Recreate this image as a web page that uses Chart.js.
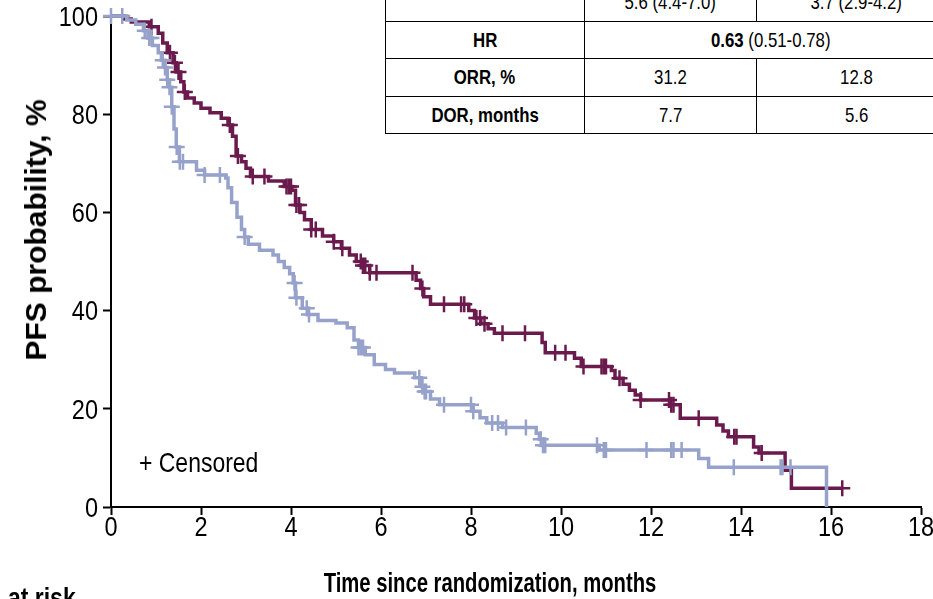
<!DOCTYPE html>
<html>
<head>
<meta charset="utf-8">
<script src="https://cdn.jsdelivr.net/npm/chart.js@4.4.1/dist/chart.umd.min.js"></script>
<style>
  body { margin: 0; background: #fff; }
  #wrap { position: relative; width: 933px; height: 599px; overflow: hidden; font-family: 'Liberation Sans', Arial, sans-serif; color: #000; }
  #myChart { position: absolute; left: 0; top: 0; }
  #stats { position: absolute; left: 385px; top: -17px; border-collapse: collapse; table-layout: fixed; width: 571px; background: #fff; font-size: 21px; }
  #stats td { border: 1.5px solid #000; height: 36.5px; padding: 0; text-align: center; overflow: hidden; }
  #stats td.lab { font-weight: bold; }
  .nar { display: inline-block; transform: scaleX(0.8); white-space: nowrap; }
  .note { position: absolute; white-space: nowrap; transform-origin: 0 0; }
</style>
</head>
<body>
<div id="wrap">
  <canvas id="myChart" width="933" height="599"></canvas>
  <table id="stats"><colgroup><col style="width:199px"><col style="width:172px"><col style="width:200px"></colgroup></table>
  <div class="note" style="left:139px; top:448px; font-size:28px; line-height:30px; transform:scaleX(0.82);">+ Censored</div>
  <div class="note" style="left:8px; top:584px; font-size:28px; line-height:28px; font-weight:bold; transform:scaleX(0.82);">at risk</div>
  <div class="note" style="left:490px; top:583px; font-size:27px; line-height:30px; font-weight:bold; transform:translate(-50%,-50%) scaleX(0.75); transform-origin:50% 50%;">Time since randomization, months</div>
  <div class="note" style="left:36px; top:230px; font-size:30px; line-height:32px; font-weight:bold; transform:translate(-50%,-50%) rotate(-90deg); transform-origin:50% 50%;">PFS probability, %</div>
</div>
<script>
// x ticks / y ticks
var xTicks = [0, 2, 4, 6, 8, 10, 12, 14, 16, 18];
var yTicks = [0, 20, 40, 60, 80, 100];

// purple arm: step times (months) and PFS % after each step
var armATimes = [0, 0.3, 0.45, 0.85, 1.05, 1.15, 1.25, 1.38, 1.45, 1.55, 1.62, 1.7, 1.85, 2.0, 2.2, 2.45, 2.6, 2.7, 2.78, 2.9, 3.0, 3.1, 3.5, 3.85, 4.02, 4.1, 4.2, 4.3, 4.45, 4.7, 4.95, 5.12, 5.3, 5.45, 5.58, 5.75, 6.78, 6.88, 6.95, 7.1, 7.95, 8.08, 8.22, 8.38, 8.52, 9.58, 9.65, 10.3, 10.45, 11.12, 11.2, 11.38, 11.52, 11.65, 11.77, 12.42, 12.65, 13.46, 13.6, 13.72, 14.28, 14.4, 14.98, 15.12, 16.25];
var armASurv  = [100, 99.4, 98.8, 97.8, 96.5, 94.5, 92.5, 90.5, 88.6, 86.6, 84.5, 83.3, 82.3, 81.2, 80.3, 79.2, 77.8, 75.5, 71.5, 70.3, 69, 67.3, 66.4, 65.3, 64.5, 61.5, 60, 58.5, 56.5, 55.2, 54, 52.7, 51.3, 50, 49.2, 47.7, 46.2, 44.5, 42.8, 41.3, 40, 38.5, 37.3, 36.3, 35.4, 33.5, 31.4, 30.3, 28.6, 27.8, 26.2, 25, 23.8, 22.8, 21.8, 20.8, 18.1, 16.7, 15.5, 14.3, 12.2, 11, 7.5, 3.8, 3.8];
var armACensor = [0.9, 1.31, 1.42, 1.5, 1.64, 2.64, 2.82, 3.15, 3.41, 3.9, 3.95, 4.0, 4.12, 4.18, 4.45, 4.55, 4.95, 5.14, 5.55, 5.6, 5.65, 5.75, 5.9, 6.7, 6.92, 7.4, 7.78, 7.85, 8.12, 8.2, 8.3, 8.7, 9.2, 9.87, 10.1, 10.5, 10.9, 10.95, 11.0, 11.3, 11.77, 12.4, 12.45, 12.5, 13.06, 13.85, 13.9, 14.46, 16.25];

// blue arm
var armBTimes = [0, 0.35, 0.55, 0.72, 0.82, 0.92, 1.05, 1.12, 1.2, 1.25, 1.3, 1.35, 1.4, 1.45, 1.52, 1.9, 2.08, 2.55, 2.6, 2.68, 2.8, 2.9, 2.97, 3.05, 3.3, 3.6, 3.72, 3.85, 3.97, 4.05, 4.1, 4.25, 4.37, 4.6, 5.0, 5.25, 5.4, 5.5, 5.65, 5.85, 6.1, 6.3, 6.75, 6.9, 6.95, 7.1, 7.3, 8.05, 8.2, 8.35, 8.7, 9.45, 9.52, 9.6, 10.85, 13.06, 13.28, 15.9];
var armBSurv  = [100, 99.2, 98.3, 97, 95.5, 94, 92.5, 91, 89.5, 87, 85.5, 81.5, 77, 73.3, 70.3, 68.6, 67.6, 67, 65, 62, 59, 56.5, 55, 53.5, 52.3, 51.3, 50, 48.8, 47.5, 45.6, 42.6, 40.5, 39.2, 38, 37.5, 36.5, 34, 32.5, 31, 29, 28, 27.3, 26.3, 24.5, 23.5, 22, 20.8, 19.5, 18.2, 17.1, 16.2, 15, 13.8, 12.6, 11.6, 9.9, 8.1, 0];
var armBCensor = [0, 0.25, 0.75, 0.85, 0.9, 1.15, 1.2, 1.25, 1.3, 1.35, 1.46, 1.53, 1.6, 2.08, 2.42, 2.97, 4.08, 4.12, 4.35, 4.4, 5.5, 5.55, 5.6, 6.85, 6.92, 6.97, 7.0, 7.4, 8.0, 8.05, 8.47, 8.6, 8.78, 9.22, 9.55, 9.6, 9.65, 10.8, 10.95, 11.0, 11.9, 12.45, 12.5, 12.68, 13.84, 14.88, 14.92, 15.1];

// table rows
var tableRows = [
  ["", "5.6 (4.4-7.0)", "3.7 (2.9-4.2)"],
  ["HR", "<b>0.63</b> (0.51-0.78)"],
  ["ORR, %", "31.2", "12.8"],
  ["DOR, months", "7.7", "5.6"]
];

var purple = "#6b1a4e";
var blue = "#97a2cb";
var fontFam = "'Liberation Sans', Arial, sans-serif";

function steps(times, surv) {
  return times.map(function (t, i) { return { x: t, y: surv[i] }; });
}
function survAt(times, surv, t) {
  var s = surv[0];
  for (var i = 0; i < times.length; i++) { if (times[i] <= t) s = surv[i]; }
  return s;
}
function censors(c, times, surv) {
  return c.map(function (t) { return { x: t, y: survAt(times, surv, t) }; });
}

// table
var tbl = document.getElementById("stats");
tableRows.forEach(function (r) {
  var tr = document.createElement("tr");
  r.forEach(function (cell, j) {
    var td = document.createElement("td");
    td.innerHTML = '<span class="nar">' + cell + '</span>';
    if (j === 0) td.className = "lab";
    if (r.length === 2 && j === 1) td.colSpan = 2;
    tr.appendChild(td);
  });
  tbl.appendChild(tr);
});

function lineSet(times, surv, col) {
  return {
    data: steps(times, surv),
    borderColor: col,
    borderWidth: 3.5,
    stepped: "before",
    pointRadius: 0,
    fill: false,
    clip: false
  };
}
function censorSet(c, times, surv, col) {
  return {
    data: censors(c, times, surv),
    showLine: false,
    pointStyle: "cross",
    pointRadius: 8,
    pointBorderWidth: 2.5,
    pointBorderColor: col,
    pointBackgroundColor: col,
    borderColor: col,
    clip: false
  };
}

// narrow tick labels, placed with the scales
var narrowTicks = {
  id: "narrowTicks",
  afterDraw: function (chart) {
    var ctx = chart.ctx;
    var xs = chart.scales.x, ys = chart.scales.y;
    ctx.save();
    ctx.fillStyle = "#000";
    ctx.font = "28px " + fontFam;
    ctx.textBaseline = "middle";
    ctx.textAlign = "center";
    xTicks.forEach(function (v) {
      ctx.save();
      ctx.translate(xs.getPixelForValue(v), ys.bottom + 21);
      ctx.scale(0.84, 1);
      ctx.fillText(String(v), 0, 0);
      ctx.restore();
    });
    ctx.textAlign = "right";
    yTicks.forEach(function (v) {
      ctx.save();
      ctx.translate(xs.left - 13, ys.getPixelForValue(v) + 2);
      ctx.scale(0.84, 1);
      ctx.fillText(String(v), 0, 0);
      ctx.restore();
    });
    ctx.restore();
  }
};

new Chart("myChart", {
  type: "line",
  data: {
    datasets: [
      lineSet(armBTimes, armBSurv, blue),
      censorSet(armBCensor, armBTimes, armBSurv, blue),
      lineSet(armATimes, armASurv, purple),
      censorSet(armACensor, armATimes, armASurv, purple)
    ]
  },
  plugins: [narrowTicks],
  options: {
    responsive: false,
    animation: false,
    layout: { padding: { top: 16, right: 12, left: 0, bottom: 0 } },
    plugins: { legend: { display: false }, tooltip: { enabled: false } },
    scales: {
      x: {
        type: "linear",
        min: 0, max: 18,
        afterBuildTicks: function (s) { s.ticks = xTicks.map(function (v) { return { value: v }; }); },
        afterFit: function (s) { s.height = 92; },
        grid: { drawOnChartArea: false, drawTicks: true, tickLength: 8, color: "#000", tickWidth: 2 },
        border: { display: true, color: "#000", width: 2 },
        ticks: { color: "rgba(0,0,0,0)", font: { size: 10 }, padding: 0, maxRotation: 0 }
      },
      y: {
        min: 0, max: 100,
        afterBuildTicks: function (s) { s.ticks = yTicks.map(function (v) { return { value: v }; }); },
        afterFit: function (s) { s.width = 111; },
        grid: { drawOnChartArea: false, drawTicks: true, tickLength: 8, color: "#000", tickWidth: 2 },
        border: { display: true, color: "#000", width: 2 },
        ticks: { color: "rgba(0,0,0,0)", font: { size: 10 }, padding: 6 }
      }
    }
  }
});
</script>
</body>
</html>
